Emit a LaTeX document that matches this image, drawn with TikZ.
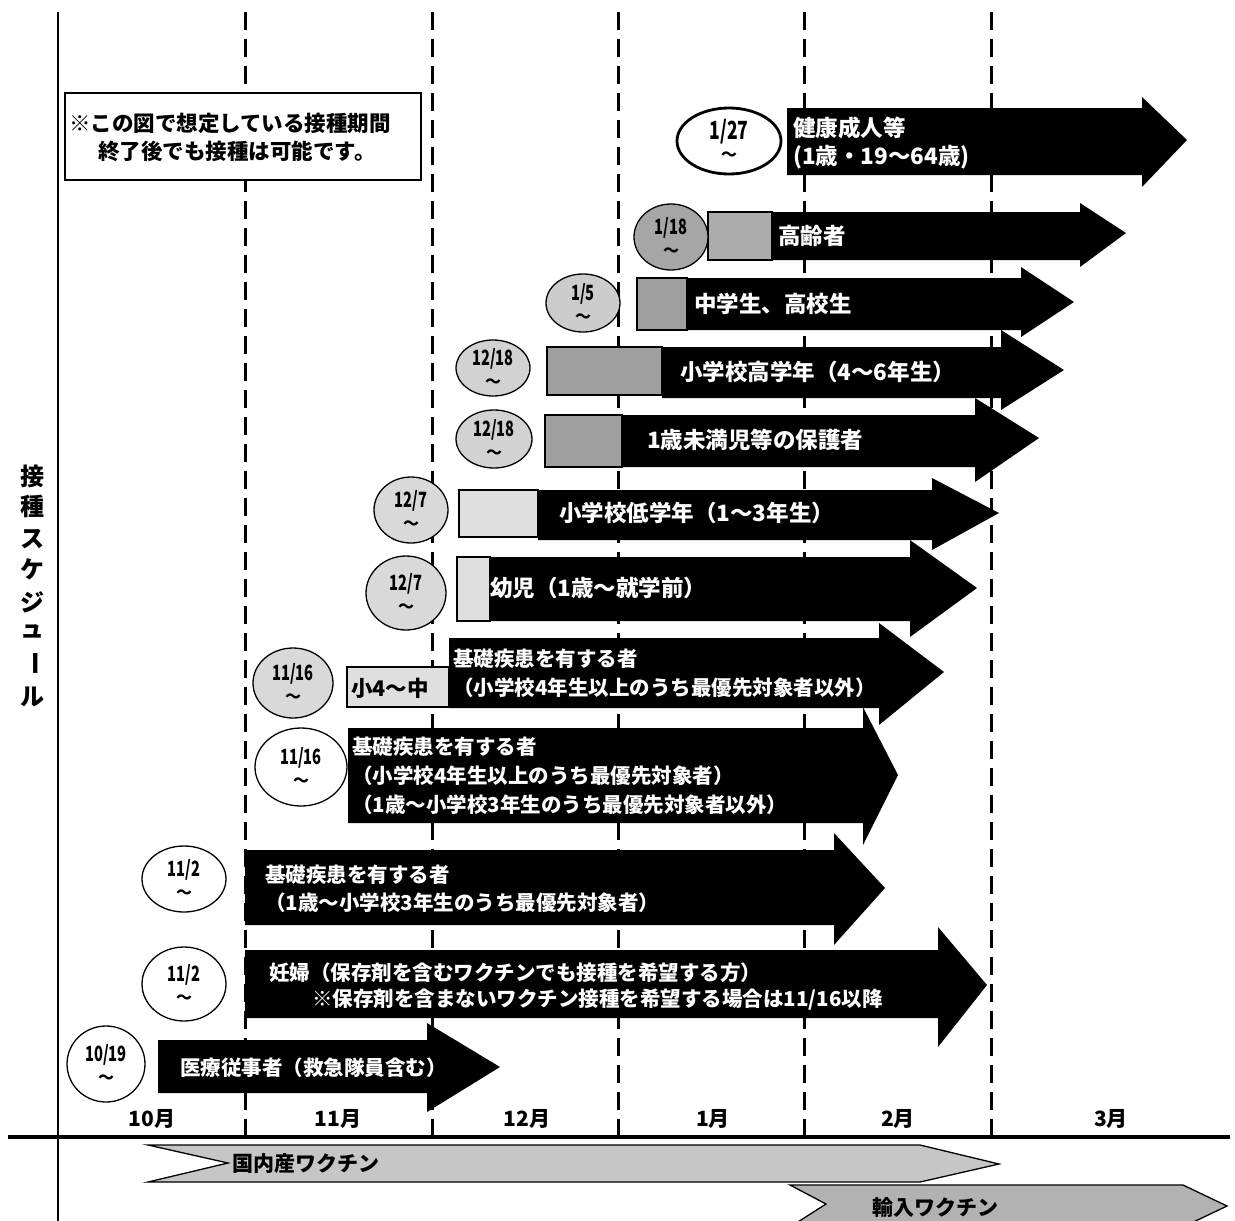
\documentclass[tikz,border=0pt]{standalone}
\usepackage{fontspec}
\usepackage{graphicx}
\setmainfont{Noto Sans CJK JP}
\usetikzlibrary{shapes.geometric}
\tikzset{
  dline/.style={line width=3pt, dash pattern=on 18pt off 9pt},
  lab/.style={text=white, font=\bfseries\fontsize{22.5}{25}\selectfont, anchor=west, inner sep=0pt},
  slab/.style={text=white, font=\bfseries\fontsize{20.5}{24}\selectfont, anchor=west, inner sep=0pt},
  blab/.style={text=black, font=\bfseries\fontsize{21.5}{25}\selectfont, anchor=west, inner sep=0pt},
  mlab/.style={font=\bfseries\fontsize{21}{24}\selectfont, inner sep=0pt},
  vlab/.style={font=\bfseries\fontsize{24}{26}\selectfont, inner sep=0pt},
  notetxt/.style={font=\bfseries\fontsize{21.5}{24}\selectfont, inner sep=0pt},
  vactxt/.style={font=\bfseries\fontsize{21}{24}\selectfont, inner sep=0pt},
  datetxt/.style={font=\bfseries\fontsize{21}{22}\selectfont, inner sep=0pt},
  tildetxt/.style={font=\bfseries\fontsize{16}{17}\selectfont, inner sep=0pt},
  gbox/.style={draw=black, line width=1.2pt},
}
\newcommand{\bararrow}[8]{%
  \fill[black] (#1,#3) -- (#2,#3) -- (#2,#5) -- (#7,#8) -- (#2,#6) -- (#2,#4) -- (#1,#4) -- cycle;}
\newcommand{\datecirc}[8]{%
  \filldraw[fill=#6, draw=black, line width=#8] (#2,#3) ellipse [x radius=#4, y radius=#5];
  \node[datetxt] (#1) at (#2,{#3-9}) {\scalebox{0.7}[1]{#7}};
  \node[tildetxt] (#1t) at (#2,{#3+15}) {〜};}
\begin{document}
\begin{tikzpicture}[x=1pt,y=-1pt]
\useasboundingbox (0,0) rectangle (1235,1221);
\fill[white] (0,0) rectangle (1235,1221);

% grid lines
\draw[line width=2.8pt] (58,12) -- (58,1221);
\foreach \xx in {245,432,618,804,991} {\draw[dline] (\xx,12) -- (\xx,1137);}
\draw[line width=3.6pt] (8,1137) -- (1230,1137);

% note box
\node[draw, line width=1.5pt, fill=white, minimum width=356, minimum height=87, anchor=north west, inner sep=0pt] (note) at (64,92) {};
\node[notetxt] (note1) at (230,123) {※この図で想定している接種期間};
\node[notetxt] (note2) at (237,151) {終了後でも接種は可能です。};

% vertical title
\node[vlab] (v1) at (32,476) {接};
\node[vlab] (v2) at (32,506) {種};
\node[vlab] (v3) at (32,539) {ス};
\node[vlab] (v4) at (32,569) {ケ};
\node[vlab] (v5) at (32,602) {ジ};
\node[vlab] (v6) at (32,631) {ュ};
\node[vlab, rotate=-90] (v7) at (32,663) {ー};
\node[vlab] (v8) at (32,697) {ル};

% black arrows
\bararrow{787}{1142}{108}{175}{97}{187}{1187}{140}
\bararrow{772}{1080}{212}{260}{203}{267}{1126}{233}
\bararrow{687}{1021}{278}{330}{267}{337}{1074}{302}
\bararrow{662}{1001}{347}{398}{330}{410}{1064}{370}
\bararrow{622}{975}{415}{467}{398}{482}{1039}{438}
\bararrow{538}{932}{490}{540}{478}{550}{999}{513}
\bararrow{490}{910}{557}{621}{540}{637}{977}{588}
\bararrow{449}{879}{638}{708}{623}{725}{944}{672}
\bararrow{348}{863}{728}{823}{707}{845}{898}{775}
\bararrow{245}{834}{850}{925}{833}{945}{885}{888}
\bararrow{245}{938}{950}{1018}{927}{1047}{987}{985}
\bararrow{158}{427}{1040}{1093}{1023}{1112}{500}{1067}

% gray boxes
\filldraw[gbox, fill=gray!65] (708,212) rectangle (772,260);
\filldraw[gbox, fill=gray!75] (637,278) rectangle (687,330);
\filldraw[gbox, fill=gray!75] (547,347) rectangle (662,395);
\filldraw[gbox, fill=gray!75] (545,415) rectangle (622,467);
\filldraw[gbox, fill=gray!25] (459,490) rectangle (538,537);
\filldraw[gbox, fill=gray!25] (457,557) rectangle (490,621);
\filldraw[gbox, fill=gray!25] (347,667) rectangle (449,707);

% arrow labels
\node[lab] (t1a) at (793,128) {健康成人等};
\node[lab] (t1b) at (793,157) {(1歳・19〜64歳)};
\node[lab] (t2) at (778,236) {高齢者};
\node[lab] (t3) at (694,304) {中学生、高校生};
\node[lab] (t4) at (680,372) {小学校高学年（4〜6年生）};
\node[lab] (t5) at (647,440) {1歳未満児等の保護者};
\node[lab] (t6) at (559,513) {小学校低学年（1〜3年生）};
\node[lab] (t7) at (490,588) {幼児（1歳〜就学前）};
\node[blab] (t8c) at (351,688) {小4〜中};
\node[slab] (t8a) at (453,659) {基礎疾患を有する者};
\node[slab] (t8b) at (453,688) {（小学校4年生以上のうち最優先対象者以外）};
\node[slab] (t9a) at (352,747) {基礎疾患を有する者};
\node[slab] (t9b) at (352,776) {（小学校4年生以上のうち最優先対象者）};
\node[slab] (t9c) at (352,805) {（1歳〜小学校3年生のうち最優先対象者以外）};
\node[slab] (t10a) at (265,875) {基礎疾患を有する者};
\node[slab] (t10b) at (265,903) {（1歳〜小学校3年生のうち最優先対象者）};
\node[slab] (t11a) at (269,973) {妊婦（保存剤を含むワクチンでも接種を希望する方）};
\node[slab] (t11b) at (312,1000) {※保存剤を含まないワクチン接種を希望する場合は11/16以降};
\node[slab] (t12) at (180,1068) {医療従事者（救急隊員含む）};

% date circles
\datecirc{c1}{729}{141}{52}{33}{white}{\fontsize{25}{26}\selectfont 1/27}{2.8pt}
\datecirc{c2}{671}{237}{37}{33}{gray!70}{1/18}{1.3pt}
\datecirc{c3}{583}{303}{37}{29}{gray!40}{1/5}{1.3pt}
\datecirc{c4}{493}{368}{37}{28}{gray!35}{12/18}{1.3pt}
\datecirc{c5}{494}{439}{38}{29}{gray!35}{12/18}{1.3pt}
\datecirc{c6}{411}{510}{37}{33}{gray!30}{12/7}{1.3pt}
\datecirc{c7}{406}{593}{40}{37}{gray!30}{12/7}{1.3pt}
\datecirc{c8}{293}{683}{40}{35}{gray!30}{11/16}{1.3pt}
\datecirc{c9}{301}{767}{46}{39}{white}{11/16}{1.3pt}
\datecirc{c10}{184}{879}{42}{33}{white}{11/2}{1.3pt}
\datecirc{c11}{184}{984}{42}{37}{white}{11/2}{1.3pt}
\datecirc{c12}{106}{1064}{39}{38}{white}{10/19}{1.3pt}

% month labels
\node[mlab] (m10) at (152,1119) {10月};
\node[mlab] (m11) at (338,1119) {11月};
\node[mlab] (m12) at (527,1119) {12月};
\node[mlab] (m1) at (713,1119) {1月};
\node[mlab] (m2) at (898,1119) {2月};
\node[mlab] (m3) at (1111,1119) {3月};

% vaccine arrows
\filldraw[fill=gray!45, draw=black, line width=1.3pt] (148,1145) -- (920,1145) -- (999,1164) -- (920,1182) -- (148,1182) -- (228,1163) -- cycle;
\node[vactxt, anchor=west] (dom) at (232,1164) {国内産ワクチン};
\filldraw[fill=gray!60, draw=black, line width=1.3pt] (790,1185) -- (1183,1185) -- (1227,1206) -- (1183,1227) -- (790,1227) -- (826,1204) -- cycle;
\node[vactxt] (imp) at (935,1207) {輸入ワクチン};
\end{tikzpicture}
\end{document}
